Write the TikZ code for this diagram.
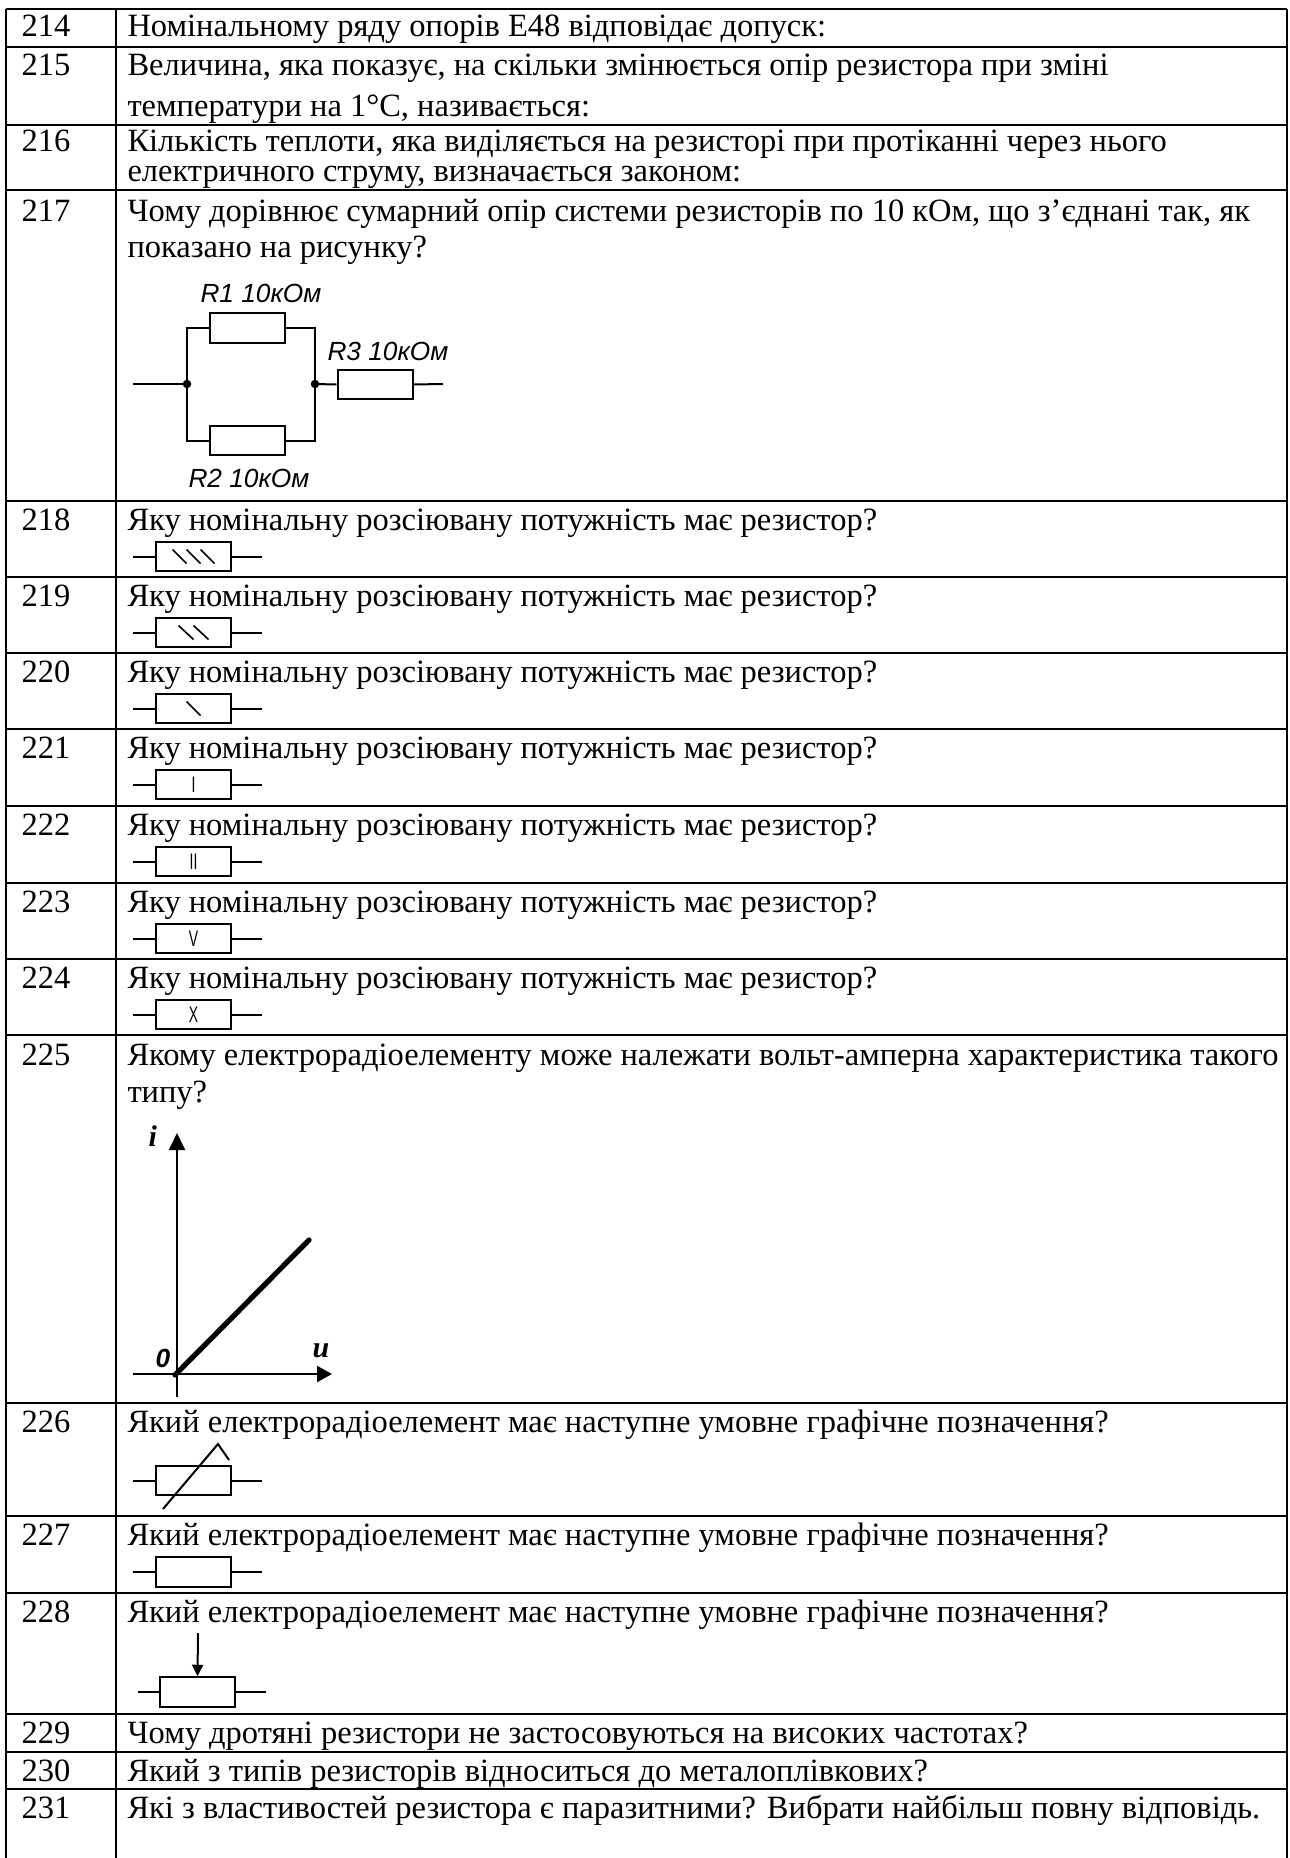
\documentclass[tikz,border=0pt]{standalone}
\usepackage{fontspec}
\setmainfont{Liberation Serif}
\newfontfamily\arialf{Liberation Sans}
\usepackage{graphicx}
\usetikzlibrary{arrows.meta}
\begin{document}
\begin{tikzpicture}[x=0.4pt,y=-0.4pt,
  grid/.style={line width=1.1pt},
  wire/.style={line width=0.8pt},
  hatch/.style={line width=0.65pt},
  qtext/.style={anchor=base west, inner sep=0pt, font=\fontsize{13}{15}\selectfont},
  rbox/.style={draw, line width=0.8pt, minimum width=30pt, minimum height=11.8pt, inner sep=0pt},
  rlabel/.style={anchor=base west, inner sep=0pt, font=\arialf\itshape\fontsize{10.5}{12}\selectfont},
  roman/.style={inner sep=0pt, font=\arialf\fontsize{9}{10}\selectfont},
  axlabel/.style={anchor=base west, inner sep=0pt, font=\bfseries\itshape\fontsize{12}{13}\selectfont}]
\useasboundingbox (0,0) rectangle (1290,1858);
\fill[white] (0,0) rectangle (1290,1858);
% table grid
\foreach \yy in {9,47,125,190,501,577,653,729,806,883,959,1035,1403,1516,1593,1714,1752,1789}
  \draw[grid] (6,\yy) -- (1287,\yy);
\draw[grid] (6,9) -- (6,1858);
\draw[grid] (116,9) -- (116,1858);
\draw[grid] (1287,9) -- (1287,1858);
% numbers
\foreach \n/\b in {214/37,215/76,216/152,217/222,218/530,219/606,220/682,221/758,222/835,223/912,224/988,225/1065,226/1432,227/1545,228/1622,229/1743,230/1781,231/1818}
  \node[qtext] (n\n) at (21,\b) {\n};
% texts
\node[qtext] (t214) at (127,37) {Номінальному ряду опорів Е48 відповідає допуск:};
\node[qtext] (t215a) at (127,76) {Величина, яка показує, на скільки змінюється опір резистора при зміні};
\node[qtext] (t215b) at (127,117) {температури на 1°С, називається:};
\node[qtext] (t216a) at (127,152) {Кількість теплоти, яка виділяється на резисторі при протіканні через нього};
\node[qtext] (t216b) at (127,182) {електричного струму, визначається законом:};
\node[qtext] (t217a) at (127,222) {Чому дорівнює сумарний опір системи резисторів по 10 кОм, що з’єднані так, як};
\node[qtext] (t217b) at (127,258) {показано на рисунку?};
\foreach \n/\b in {218/530,219/606,220/682,221/758,222/835,223/912,224/988}
  \node[qtext] (t\n) at (127,\b) {Яку номінальну розсіювану потужність має резистор?};
\node[qtext] (t225a) at (127,1065) {Якому електрорадіоелементу може належати вольт-амперна характеристика такого};
\node[qtext] (t225b) at (127,1102) {типу?};
\foreach \n/\b in {226/1432,227/1545,228/1622}
  \node[qtext] (t\n) at (127,\b) {Який електрорадіоелемент має наступне умовне графічне позначення?};
\node[qtext] (t229) at (127,1743) {Чому дротяні резистори не застосовуються на високих частотах?};
\node[qtext] (t230) at (127,1781) {Який з типів резисторів відноситься до металоплівкових?};
\node[qtext] (t231) at (127,1818) {Які з властивостей резистора є паразитними? Вибрати найбільш повну відповідь.};
% 217 circuit
\coordinate (cin) at (133,384);
\coordinate (J1) at (187,384);
\coordinate (J2) at (315,384);
\coordinate (cout) at (443,384);
\node[rbox] (R1) at (247,328) {};
\node[rbox] (R2) at (247,440.5) {};
\node[rbox] (R3) at (375,384.5) {};
\draw[wire] (cin) -- (J1);
\draw[wire] (R1.west) -| (J1);
\draw[wire] (R2.west) -| (J1);
\draw[wire] (R1.east) -| (J2);
\draw[wire] (R2.east) -| (J2);
\draw[wire] (J2) -- (R3.west);
\draw[wire] (R3.east) -- (cout);
\fill (J1) circle[radius=1.7pt];
\fill (J2) circle[radius=1.7pt];
\node[rlabel] (L1) at (200,303) {R1 10кОм};
\node[rlabel] (L3) at (327,360) {R3 10кОм};
\node[rlabel] (L2) at (188,487) {R2 10кОм};
% resistors 218-224
\foreach \n/\t in {218/501,219/577,220/653,221/729,222/806,223/883,224/959} {
  \node[rbox] (r\n) at (193.5,\t+55.5) {};
  \coordinate (rl\n) at (133,\t+55.5);
  \coordinate (rr\n) at (262,\t+55.5);
  \draw[wire] (rl\n) -- (r\n.west);
  \draw[wire] (r\n.east) -- (rr\n);
}
\draw[hatch,shift={(r218.center)}] (-21,-7) -- (-7,7) (-7,-7) -- (7,7) (7,-7) -- (21,7);
\draw[hatch,shift={(r219.center)}] (-15,-7) -- (0,7) (0,-7) -- (15,7);
\draw[hatch,shift={(r220.center)}] (-7,-7) -- (7,7);
\node[roman] (m221) at (r221.center) {\scalebox{0.62}[1]{I}};
\node[roman] (m222) at (r222.center) {\scalebox{0.62}[1]{II}};
\node[roman] (m223) at (r223.center) {\scalebox{0.62}[1]{V}};
\node[roman] (m224) at (r224.center) {\scalebox{0.62}[1]{X}};
% 225 graph
\coordinate (yb) at (177,1397);
\coordinate (yt) at (177,1133);
\coordinate (xl) at (133,1374);
\coordinate (xr) at (332,1374);
\coordinate (le) at (309,1240);
\coordinate (ls) at (175,1375);
\draw[wire,-{Triangle[length=6.8pt,width=6.4pt]}] (yb) -- (yt);
\draw[wire,-{Triangle[length=6pt,width=6.4pt]}] (xl) -- (xr);
\draw[line width=2.1pt,line cap=round] (ls) -- (le);
\node[axlabel] (li) at (148,1146) {i};
\node[anchor=base west, inner sep=0pt, font=\arialf\bfseries\itshape\fontsize{10.5}{12}\selectfont] (l0) at (155,1367) {0};
\node[axlabel] (lu) at (312,1357) {u};
% 226 symbol
\node[rbox] (r226) at (193.5,1480.5) {};
\coordinate (rl226) at (133,1480.5);
\coordinate (rr226) at (262,1480.5);
\draw[wire] (rl226) -- (r226.west);
\draw[wire] (r226.east) -- (rr226);
\coordinate (d1) at (163,1509);
\coordinate (d2) at (218,1444);
\coordinate (d3) at (229,1460);
\draw[wire] (d1) -- (d2) -- (d3);
% 227 symbol
\node[rbox] (r227) at (193.5,1572) {};
\coordinate (rl227) at (133,1572);
\coordinate (rr227) at (262,1572);
\draw[wire] (rl227) -- (r227.west);
\draw[wire] (r227.east) -- (rr227);
% 228 symbol
\node[rbox] (r228) at (197.5,1692) {};
\coordinate (rl228) at (138,1692);
\coordinate (rr228) at (266,1692);
\coordinate (a228) at (198,1633);
\draw[wire] (rl228) -- (r228.west);
\draw[wire] (r228.east) -- (rr228);
\draw[wire,-{Triangle[length=4.6pt,width=4.4pt]}] (a228) -- (r228.north);
\end{tikzpicture}
\end{document}
